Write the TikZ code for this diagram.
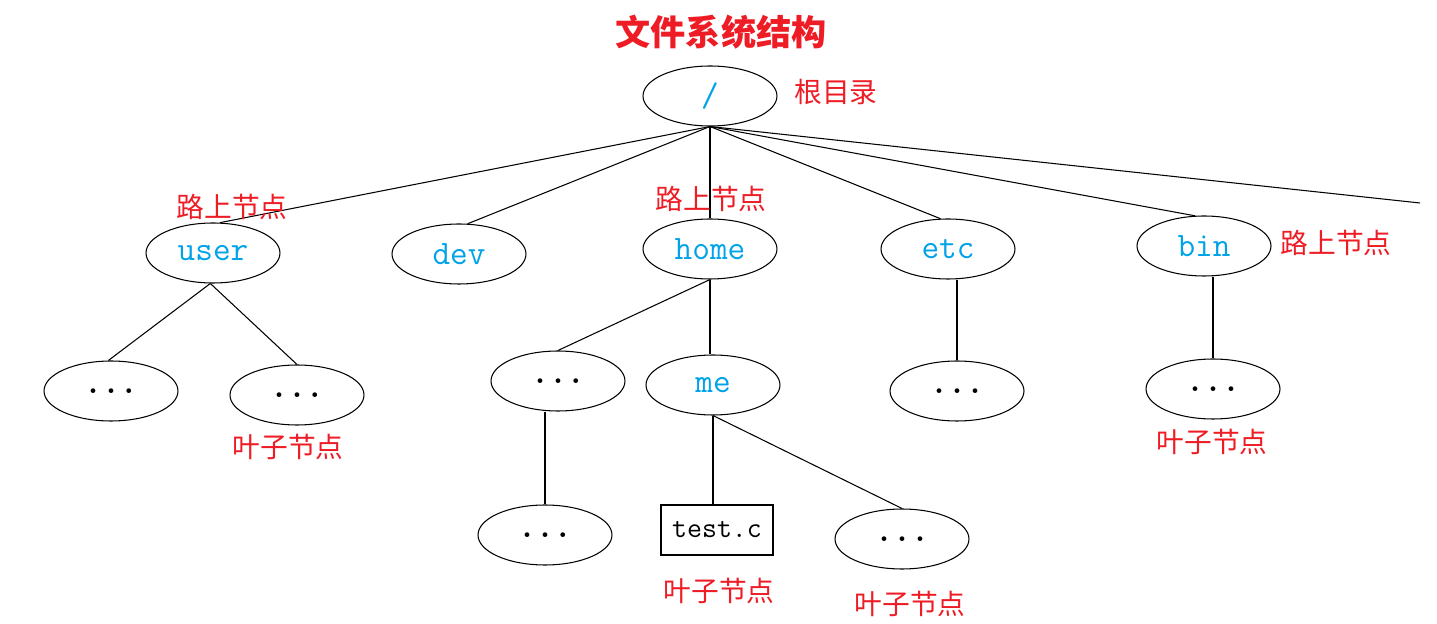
\documentclass[tikz,border=0pt]{standalone}
\usepackage{fontspec}
\usepackage{xcolor}
\usepackage{tikz}
\usetikzlibrary{shapes.geometric}
\newfontfamily\cjk{Noto Sans CJK SC}
\definecolor{NoteRed}  {HTML}{EE1C25}
\definecolor{DirBlue}  {HTML}{00A2E8}
\tikzset{
  dirnode/.style={ellipse,draw,line width=0.6pt,minimum width=2.68cm,minimum height=1.2cm,
        inner sep=0pt,text=DirBlue,font=\ttfamily\fontsize{19.5}{22}\selectfont},
  dotnode/.style={dirnode,text=black,font=\ttfamily\bfseries\fontsize{19.5}{22}\selectfont},
  filenode/.style={rectangle,draw,line width=0.6pt,minimum width=2.24cm,minimum height=1cm,
        inner sep=0pt,font=\ttfamily\fontsize{16.5}{19}\selectfont},
  note/.style={text=NoteRed,font=\cjk\fontsize{15.8}{18}\selectfont,inner sep=0pt},
  link/.style={line width=0.6pt}
}
\begin{document}
\begin{tikzpicture}[x=0.02cm,y=-0.02cm]
  \useasboundingbox (0,0) rectangle (1437,624);
  % title
  \node[note,font=\cjk\bfseries\fontsize{20}{24}\selectfont] (title) at (721,32) {文件系统结构};
  % directories
  \node[dirnode] (root) at (710,96) {/};
  \node[dirnode] (user) at (213,253) {user};
  \node[dirnode] (dev)  at (459,254) {dev};
  \node[dirnode] (home) at (710,249) {home};
  \node[dirnode] (etc)  at (948,249) {etc};
  \node[dirnode] (bin)  at (1204,246) {bin};
  \coordinate (more) at (1420,203);
  \node[dotnode] (userA) at (111,391) {...};
  \node[dotnode] (userB) at (297,395) {...};
  \node[dotnode] (homeA) at (558,381) {...};
  \node[dirnode] (me)    at (713,385) {me};
  \node[dotnode] (etcA)  at (957,391) {...};
  \node[dotnode] (binA)  at (1213,389) {...};
  \node[dotnode] (homeAA) at (545,535) {...};
  \node[filenode] (testc) at (717,530) {test.c};
  \node[dotnode] (meB)   at (902,539) {...};
  % edges
  \draw[link] (root.south) -- (user.77);
  \draw[link] (root.south) -- (dev.74);
  \draw[link] (root.south) -- (home.north);
  \draw[link] (root.south) -- (etc.104);
  \draw[link] (root.south) -- (bin.107);
  \draw[link] (root.south) -- (more);
  \draw[link] (user.265) -- (userA.95);
  \draw[link] (user.265) -- (userB.north);
  \draw[link] (home.south) -- (homeA.north);
  \draw[link] (home.south) -- (home.south |- me.north);
  \draw[link] (homeA.south -| homeAA.north) -- (homeAA.north);
  \draw[link] (me.south) -- (me.south |- testc.north);
  \draw[link] (me.south) -- (meB.north);
  \draw[link] (etc.south -| etcA.north) -- (etcA.north);
  \draw[link] (bin.south -| binA.north) -- (binA.north);
  % notes
  \node[note] (rootnote)  at (836,92)  {根目录};
  \node[note] (usernote)  at (232,207) {路上节点};
  \node[note] (homenote)  at (711,199) {路上节点};
  \node[note] (binnote)   at (1336,243) {路上节点};
  \node[note] (leafuser)  at (288,447) {叶子节点};
  \node[note] (leafbin)   at (1212,442) {叶子节点};
  \node[note] (leaftest)  at (719,591) {叶子节点};
  \node[note] (leafme)    at (910,604) {叶子节点};
\end{tikzpicture}
\end{document}
